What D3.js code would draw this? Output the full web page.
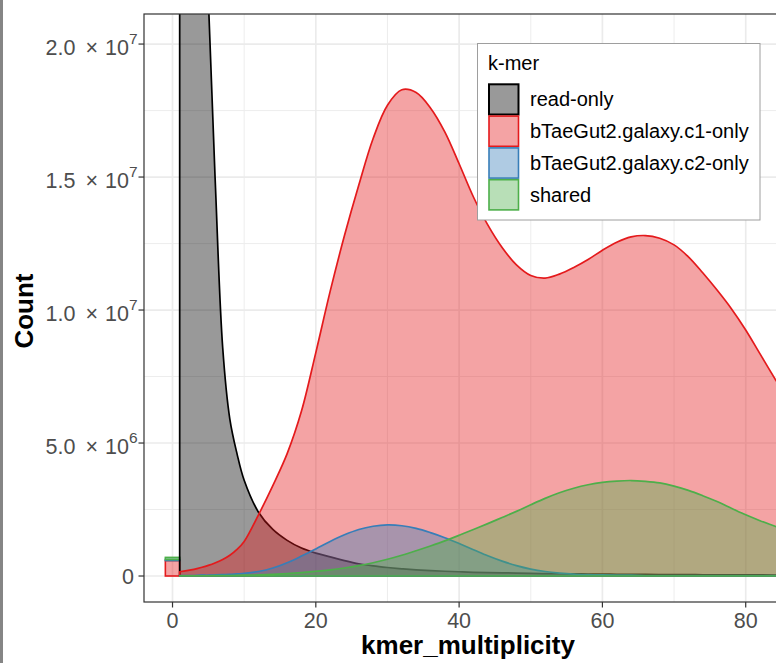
<!DOCTYPE html>
<html>
<head>
<meta charset="utf-8">
<script src="https://d3js.org/d3.v7.min.js"></script>
<style>
  body { margin: 0; background: #fff; }
  svg { display: block; font-family: "Liberation Sans", Arial, sans-serif; }
</style>
</head>
<body>
<div id="chart"></div>
<script>
// Width and height of the canvas
var w = 776, h = 663;
// panel box (plot area), right edge runs off the page
var panel = {left: 144, top: 14, right: 792, bottom: 602};

// k-mer multiplicity (x) and counts per group
var kmerX = [1, 2, 3, 4, 5, 6, 7, 8, 9, 10, 12, 14, 16, 18, 20, 22, 24, 26, 28, 30,
             32, 34, 36, 38, 40, 42, 44, 46, 48, 50, 52, 54, 56, 58, 60, 62, 64, 66, 68, 70,
             72, 74, 76, 78, 80, 82, 84, 86, 88, 90];

var readOnly = [1.8e8, 9.5e7, 5.2e7, 3.2e7, 2.17e7, 1.46e7, 8.6e6, 5.9e6, 4.6e6, 3.6e6,
                2.4e6, 1.75e6, 1.34e6, 1.05e6, 8.6e5, 7.2e5, 5.8e5, 4.6e5, 3.8e5, 3.2e5,
                2.7e5, 2.3e5, 2.0e5, 1.8e5, 1.6e5, 1.4e5, 1.3e5, 1.2e5, 1.1e5, 1.0e5,
                9.0e4, 8.5e4, 8.0e4, 7.5e4, 7.0e4, 6.5e4, 6.0e4, 5.8e4, 5.5e4, 5.3e4,
                5.0e4, 4.8e4, 4.6e4, 4.4e4, 4.2e4, 4.0e4, 3.9e4, 3.8e4, 3.7e4, 3.6e4];

var c1Only = [1.6e5, 2.0e5, 2.5e5, 3.2e5, 4.0e5, 5.0e5, 6.2e5, 7.8e5, 1.0e6, 1.3e6,
              2.3e6, 3.4e6, 4.6e6, 6.2e6, 8.4e6, 1.07e7, 1.28e7, 1.47e7, 1.645e7, 1.77e7,
              1.828e7, 1.818e7, 1.76e7, 1.67e7, 1.55e7, 1.425e7, 1.32e7, 1.235e7, 1.17e7, 1.13e7,
              1.12e7, 1.135e7, 1.16e7, 1.19e7, 1.225e7, 1.255e7, 1.275e7, 1.28e7, 1.27e7, 1.245e7,
              1.2e7, 1.14e7, 1.075e7, 1.005e7, 9.25e6, 8.35e6, 7.45e6, 6.6e6, 5.8e6, 5.0e6];

var c2Only = [2e4, 2e4, 2e4, 3e4, 3e4, 4e4, 5e4, 6e4, 8e4, 1.0e5,
              1.7e5, 3.0e5, 5.0e5, 7.5e5, 1.02e6, 1.3e6, 1.55e6, 1.75e6, 1.87e6, 1.92e6,
              1.89e6, 1.79e6, 1.63e6, 1.44e6, 1.22e6, 9.9e5, 7.6e5, 5.6e5, 3.9e5, 2.6e5,
              1.7e5, 1.1e5, 7e4, 5e4, 4e4, 3e4, 3e4, 2e4, 2e4, 2e4,
              2e4, 2e4, 2e4, 2e4, 2e4, 2e4, 2e4, 2e4, 2e4, 2e4];

var shared = [1e4, 1e4, 1e4, 1e4, 1e4, 1.5e4, 2e4, 2e4, 2.5e4, 3e4,
              4e4, 6e4, 9e4, 1.3e5, 1.8e5, 2.3e5, 3.0e5, 3.9e5, 5.0e5, 6.3e5,
              7.8e5, 9.5e5, 1.13e6, 1.32e6, 1.53e6, 1.75e6, 1.97e6, 2.2e6, 2.43e6, 2.68e6,
              2.92e6, 3.13e6, 3.3e6, 3.43e6, 3.52e6, 3.57e6, 3.59e6, 3.56e6, 3.5e6, 3.38e6,
              3.22e6, 3.02e6, 2.8e6, 2.55e6, 2.3e6, 2.08e6, 1.88e6, 1.68e6, 1.48e6, 1.3e6];

// k-mers found only in the assembly (multiplicity 0), stacked bars
var zeroGroups = ["bTaeGut2.galaxy.c1-only", "bTaeGut2.galaxy.c2-only", "shared"];
var zeroCounts = [5.8e5, 4e4, 8e4];

var groups = ["read-only", "bTaeGut2.galaxy.c1-only", "bTaeGut2.galaxy.c2-only", "shared"];
var groupValues = [readOnly, c1Only, c2Only, shared];
var colors = ["#000000", "#E41A1C", "#377EB8", "#4DAF4A"];

var xTicks = [0, 20, 40, 60, 80];
var xMinor = [10, 30, 50, 70];
var yTicks = [0, 5e6, 1e7, 1.5e7, 2e7];
var yMinor = [2.5e6, 7.5e6, 1.25e7, 1.75e7];

var xScale = d3.scaleLinear().domain([-3.98, 86.46]).range([panel.left, panel.right]);
var yScale = d3.scaleLinear().domain([-9.77e5, 2.113e7]).range([panel.bottom, panel.top]);
var color = d3.scaleOrdinal().domain(groups).range(colors);

var svg = d3.select("#chart").append("svg")
    .attr("width", w).attr("height", h);

svg.append("rect").attr("width", w).attr("height", h).attr("fill", "#fff");
// grey strip on the left edge of the picture
svg.append("rect").attr("x", 0).attr("y", 0).attr("width", 3).attr("height", h).attr("fill", "#858585");

svg.append("clipPath").attr("id", "clip")
  .append("rect")
    .attr("x", panel.left).attr("y", panel.top)
    .attr("width", panel.right - panel.left).attr("height", panel.bottom - panel.top);

var plot = svg.append("g").attr("clip-path", "url(#clip)");

// grid
plot.selectAll(".minorx").data(xMinor).enter().append("line")
    .attr("x1", d => xScale(d)).attr("x2", d => xScale(d))
    .attr("y1", panel.top).attr("y2", panel.bottom)
    .attr("stroke", "#EBEBEB").attr("stroke-width", 0.9);
plot.selectAll(".minory").data(yMinor).enter().append("line")
    .attr("y1", d => yScale(d)).attr("y2", d => yScale(d))
    .attr("x1", panel.left).attr("x2", panel.right)
    .attr("stroke", "#EBEBEB").attr("stroke-width", 0.9);
plot.selectAll(".majorx").data(xTicks).enter().append("line")
    .attr("x1", d => xScale(d)).attr("x2", d => xScale(d))
    .attr("y1", panel.top).attr("y2", panel.bottom)
    .attr("stroke", "#EBEBEB").attr("stroke-width", 1.7);
plot.selectAll(".majory").data(yTicks).enter().append("line")
    .attr("y1", d => yScale(d)).attr("y2", d => yScale(d))
    .attr("x1", panel.left).attr("x2", panel.right)
    .attr("stroke", "#EBEBEB").attr("stroke-width", 1.7);

// stacked bars at multiplicity 0
var stackBase = 0;
zeroCounts.forEach(function(v, i) {
  plot.append("rect")
      .attr("x", xScale(-1)).attr("width", xScale(1) - xScale(-1))
      .attr("y", yScale(stackBase + v)).attr("height", yScale(stackBase) - yScale(stackBase + v))
      .attr("fill", color(zeroGroups[i])).attr("fill-opacity", 0.4)
      .attr("stroke", color(zeroGroups[i])).attr("stroke-width", 1.6);
  stackBase += v;
});

// areas
var area = d3.area()
    .x(d => xScale(d[0]))
    .y0(yScale(0))
    .y1(d => yScale(d[1]))
    .curve(d3.curveCatmullRom.alpha(0.5));

groups.forEach(function(g, i) {
  var pts = kmerX.map((x, j) => [x, groupValues[i][j]]);
  plot.append("path")
      .datum(pts)
      .attr("d", area)
      .attr("fill", color(g)).attr("fill-opacity", 0.4)
      .attr("stroke", color(g)).attr("stroke-width", 1.7)
      .attr("stroke-linejoin", "round");
});

// panel border
svg.append("rect")
    .attr("x", panel.left).attr("y", panel.top)
    .attr("width", panel.right - panel.left).attr("height", panel.bottom - panel.top)
    .attr("fill", "none").attr("stroke", "#333333").attr("stroke-width", 1.2);

// x axis
var xAxis = svg.append("g");
xAxis.selectAll("line").data(xTicks).enter().append("line")
    .attr("x1", d => xScale(d)).attr("x2", d => xScale(d))
    .attr("y1", panel.bottom).attr("y2", panel.bottom + 5.5)
    .attr("stroke", "#333333").attr("stroke-width", 1.2);
xAxis.selectAll("text").data(xTicks).enter().append("text")
    .attr("x", d => xScale(d)).attr("y", 628)
    .attr("text-anchor", "middle")
    .attr("font-size", 21.5).attr("fill", "#4D4D4D")
    .text(d => d);

// y axis
var yAxis = svg.append("g");
yAxis.selectAll("line").data(yTicks).enter().append("line")
    .attr("y1", d => yScale(d)).attr("y2", d => yScale(d))
    .attr("x1", panel.left - 5.5).attr("x2", panel.left)
    .attr("stroke", "#333333").attr("stroke-width", 1.2);

yTicks.forEach(function(v) {
  var t = yAxis.append("text")
      .attr("text-anchor", "end")
      .attr("font-size", 21.5).attr("fill", "#4D4D4D");
  if (v === 0) {
    t.attr("x", 134).attr("y", yScale(v) + 7.5).text("0");
    return;
  }
  var exp = Math.floor(Math.log10(v));
  var mant = (v / Math.pow(10, exp)).toFixed(1);
  t.attr("x", 137.5).attr("y", yScale(v) + 11);
  t.append("tspan").text(mant);
  t.append("tspan").attr("dx", 10).text("\u00D7");
  t.append("tspan").attr("dx", 7).text("10");
  t.append("tspan").attr("dy", -11).attr("font-size", 15.5).text(exp);
});

// axis titles
svg.append("text")
    .attr("x", (panel.left + panel.right) / 2).attr("y", 654)
    .attr("text-anchor", "middle")
    .attr("font-size", 26).attr("font-weight", "bold").attr("fill", "#000")
    .text("kmer_multiplicity");

svg.append("text")
    .attr("transform", "translate(33," + 311 + ") rotate(-90)")
    .attr("text-anchor", "middle")
    .attr("font-size", 26).attr("font-weight", "bold").attr("fill", "#000")
    .text("Count");

// legend
var legend = svg.append("g");
legend.append("rect")
    .attr("x", 477.5).attr("y", 43.5).attr("width", 282.5).attr("height", 176.5)
    .attr("fill", "#fff").attr("stroke", "#9E9E9E").attr("stroke-width", 1);
legend.append("text")
    .attr("x", 488).attr("y", 69.5)
    .attr("font-size", 20).attr("fill", "#000")
    .text("k-mer");

var rowTop = 83.5, rowH = 31.8;
groups.forEach(function(g, i) {
  var y0 = rowTop + i * rowH;
  legend.append("rect")
      .attr("x", 489).attr("y", y0 + 0.8).attr("width", 29.5).attr("height", rowH - 1.6)
      .attr("fill", "#fff");
  legend.append("rect")
      .attr("x", 489).attr("y", y0 + 0.8).attr("width", 29.5).attr("height", rowH - 1.6)
      .attr("fill", color(g)).attr("fill-opacity", 0.4)
      .attr("stroke", color(g)).attr("stroke-width", i === 0 ? 2 : 1.6);
  legend.append("text")
      .attr("x", 530).attr("y", y0 + rowH / 2 + 7)
      .attr("font-size", 20).attr("fill", "#000")
      .text(g);
});
</script>
</body>
</html>
